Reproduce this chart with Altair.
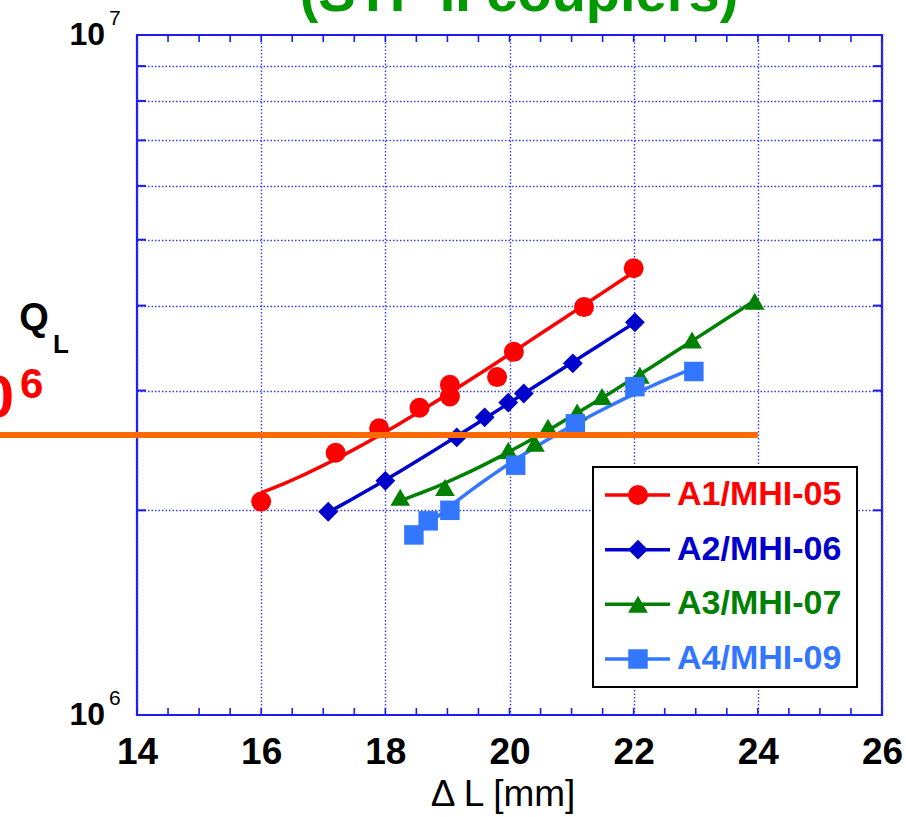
import altair as alt
import pandas as pd

# ---------------- data ----------------
series_names = ["A1/MHI-05", "A2/MHI-06", "A3/MHI-07", "A4/MHI-09"]
series_colors = ["#ff0000", "#0000cc", "#008000", "#3377ff"]
series_shapes = ["circle", "diamond", "triangle-up", "square"]
series_sizes = [400, 380, 420, 300]

# Delta L [mm] and loaded Q (in units of 1e6)
a1_dl = [16.0, 17.2, 17.9, 18.55, 19.04, 19.04, 19.8, 20.07, 21.2, 22.0]
a1_q = [2.06, 2.43, 2.64, 2.83, 3.06, 2.94, 3.14, 3.42, 3.98, 4.54]
a2_dl = [17.08, 18.0, 19.15, 19.6, 19.98, 20.23, 21.02, 22.02]
a2_q = [1.99, 2.21, 2.56, 2.74, 2.88, 2.97, 3.29, 3.78]
a3_dl = [18.24, 18.96, 19.98, 20.41, 20.62, 21.09, 21.49, 22.1, 22.94, 23.95]
a3_q = [2.09, 2.16, 2.45, 2.51, 2.65, 2.79, 2.94, 3.16, 3.56, 4.06]
a4_dl = [18.46, 18.69, 19.04, 20.1, 21.06, 22.02, 22.97]
a4_q = [1.84, 1.93, 2.00, 2.33, 2.68, 3.04, 3.20]

x_tick_values = [14, 16, 18, 20, 22, 24, 26]
y_grid_values = [2e6, 3e6, 4e6, 5e6, 6e6, 7e6, 8e6, 9e6]
y_end_values = [1e6, 1e7]
y_end_exponents = ["6", "7"]
threshold_q = 2.58e6
threshold_end = 24

title_text = "(STF II couplers)"
ylabel_main = "Q"
ylabel_sub = "L"
red_main = "0"
red_sup = "6"
xlabel_text = "\u0394 L  [mm]"

# ---------------- build table ----------------
rows = []
for name, xs_, qs_ in zip(series_names, [a1_dl, a2_dl, a3_dl, a4_dl], [a1_q, a2_q, a3_q, a4_q]):
    for xv, qv in zip(xs_, qs_):
        rows.append({"series": name, "dl": xv, "q": qv * 1e6})
df = pd.DataFrame(rows)
one_row = pd.DataFrame({"a": [0]})
leg_df = pd.DataFrame({"series": series_names})
pow_df = pd.DataFrame({"q": y_end_values, "base": ["10", "10"], "exp": y_end_exponents})

FONT = "Liberation Sans"
FRAME = "#1c1cf0"
GRID = "#3a3aff"

x_scale = alt.Scale(domain=[14, 26], nice=False, zero=False)
y_scale = alt.Scale(type="log", domain=[1e6, 1e7], nice=False)

x_axis = alt.Axis(values=x_tick_values, grid=True, gridColor=GRID, gridDash=[1.5, 2],
                  gridWidth=1.4, ticks=False, domain=False, labelFont=FONT,
                  labelFontSize=37, labelFontWeight="bold", labelColor="black",
                  labelPadding=19, labelFlush=False, labelOverlap=False, title=None)
y_axis = alt.Axis(values=y_grid_values, grid=True, gridColor=GRID, gridDash=[1.5, 2],
                  gridWidth=1.4, ticks=False, domain=False, labels=False, title=None)

color = alt.Color("series:N", scale=alt.Scale(domain=series_names, range=series_colors), legend=None)
shape = alt.Shape("series:N", scale=alt.Scale(domain=series_names, range=series_shapes), legend=None)
size = alt.Size("series:O", scale=alt.Scale(domain=series_names, range=series_sizes), legend=None)

base = alt.Chart(df)

lines = base.transform_regression("dl", "q", groupby=["series"], method="poly", order=2).mark_line(
    strokeWidth=3.5).encode(
    x=alt.X("dl:Q", scale=x_scale, axis=x_axis),
    y=alt.Y("q:Q", scale=y_scale, axis=y_axis),
    color=color,
)

points = base.mark_point(filled=True, opacity=1, strokeWidth=0).encode(
    x=alt.X("dl:Q", scale=x_scale, axis=x_axis),
    y=alt.Y("q:Q", scale=y_scale, axis=y_axis),
    color=color, shape=shape, size=size,
)

xt = alt.Chart(alt.sequence(14, 26.01, 0.5, as_="t"))
top_ticks = xt.mark_rule(color=FRAME, strokeWidth=1.6).encode(
    x=alt.X("t:Q", scale=x_scale, axis=x_axis), y=alt.value(0), y2=alt.value(7))
bot_ticks = xt.mark_rule(color=FRAME, strokeWidth=1.6).encode(
    x=alt.X("t:Q", scale=x_scale, axis=x_axis), y=alt.value(673), y2=alt.value(680))

yt = alt.Chart(alt.sequence(2, 10, 1, as_="k")).transform_calculate(q="datum.k * 1000000")
left_ticks = yt.mark_rule(color=FRAME, strokeWidth=2).encode(
    y=alt.Y("q:Q", scale=y_scale, axis=y_axis), x=alt.value(0), x2=alt.value(9))
right_ticks = yt.mark_rule(color=FRAME, strokeWidth=2).encode(
    y=alt.Y("q:Q", scale=y_scale, axis=y_axis), x=alt.value(736), x2=alt.value(745))

orange = alt.Chart(one_row).mark_rule(color="#ff6a00", strokeWidth=6).encode(
    x=alt.X(datum=threshold_end, scale=x_scale, axis=x_axis),
    x2=alt.value(-137),
    y=alt.Y(datum=threshold_q, scale=y_scale, axis=y_axis),
)


def txt(text, x, y, size, color="black", weight="normal", align="left"):
    return alt.Chart(one_row).mark_text(
        text=text, font=FONT, fontSize=size, fontWeight=weight, color=color,
        align=align, baseline="alphabetic").encode(x=alt.value(x), y=alt.value(y))


pow_base = alt.Chart(pow_df).mark_text(
    font=FONT, fontSize=32, fontWeight="bold", color="black", align="right",
    baseline="alphabetic", dy=10).encode(
    x=alt.value(-32), y=alt.Y("q:Q", scale=y_scale, axis=y_axis), text="base:N")
pow_exp = alt.Chart(pow_df).mark_text(
    font=FONT, fontSize=21, color="black", align="left",
    baseline="alphabetic", dy=-10).encode(
    x=alt.value(-28), y=alt.Y("q:Q", scale=y_scale, axis=y_axis), text="exp:N")

texts = [
    txt(title_text, 382, -24, 56, color="#009900", weight="bold", align="center"),
    txt(ylabel_main, -103, 295, 38, weight="bold", align="center"),
    txt(ylabel_sub, -84, 318, 26, weight="bold"),
    txt(red_main, -123, 382, 60, color="#ff0000", weight="bold", align="right"),
    txt(red_sup, -117, 363, 42, color="#ff0000", weight="bold"),
    txt(xlabel_text, 366, 771, 37, align="center"),
    pow_base, pow_exp,
]

main = alt.layer(lines, points, top_ticks, bot_ticks, left_ticks, right_ticks, orange, *texts)

legY = alt.Y("series:N", scale=alt.Scale(type="point", domain=series_names, range=[460, 624], padding=0),
             axis=None)
box = alt.Chart(one_row).mark_rect(fill="white", stroke="black", strokeWidth=2).encode(
    x=alt.value(456), x2=alt.value(720), y=alt.value(432), y2=alt.value(652))
leg_lines = alt.Chart(leg_df).mark_rule(strokeWidth=3.5).encode(
    x=alt.value(468), x2=alt.value(533), y=legY, color=color)
leg_pts = alt.Chart(leg_df).mark_point(filled=True, opacity=1, strokeWidth=0).encode(
    x=alt.value(501), y=legY, color=color, shape=shape, size=size)
leg_text = alt.Chart(leg_df).mark_text(align="left", baseline="middle", font=FONT, fontSize=34,
                                       fontWeight="bold").encode(
    x=alt.value(540), y=legY, text="series:N", color=color)
legend = alt.layer(box, leg_lines, leg_pts, leg_text)

chart = alt.layer(main, legend).resolve_scale(y="independent").properties(
    width=745, height=680,
    autosize=alt.AutoSizeParams(type="none"),
    padding={"left": 137, "top": 35, "right": 24, "bottom": 102},
    background="white",
).configure_view(stroke=FRAME, strokeWidth=2.2)

chart.save("out.html", embed_options={"renderer": "svg", "actions": False})
